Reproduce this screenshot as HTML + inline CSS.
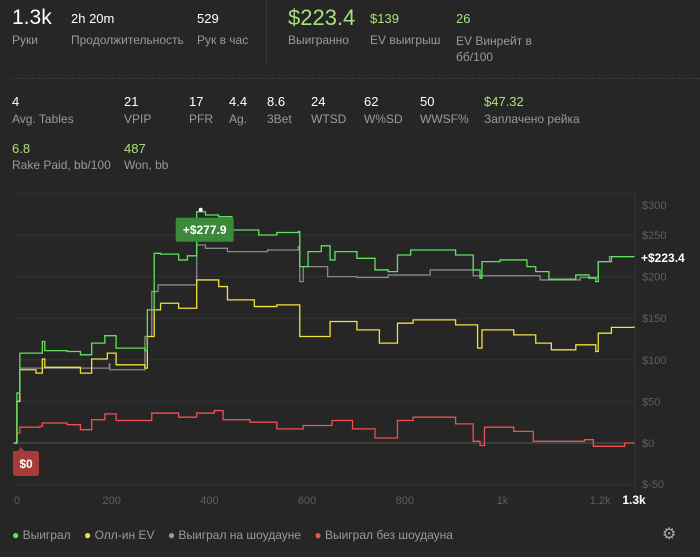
<!DOCTYPE html>
<html><head><meta charset="utf-8">
<style>
body{margin:0;width:700px;height:557px;background:#262626;font-family:"Liberation Sans",sans-serif;overflow:hidden;position:relative;color:#fff}
.a{position:absolute;white-space:nowrap}
.v{font-size:13px;color:#fff}
.g{color:#a8e07c}
.l{font-size:12px;color:#9a9a9a}
</style></head><body>
<div class="a" style="left:12px;top:6px;font-size:21px">1.3k</div>
<div class="a l" style="left:12px;top:33px">Руки</div>
<div class="a v" style="left:71px;top:11px">2h 20m</div>
<div class="a l" style="left:71px;top:33px">Продолжительность</div>
<div class="a v" style="left:197px;top:11px">529</div>
<div class="a l" style="left:197px;top:33px">Рук в час</div>
<div class="a" style="left:266px;top:0;width:1px;height:63px;background:#3a3a3a"></div>
<div class="a g" style="left:288px;top:5px;font-size:22px">$223.4</div>
<div class="a l" style="left:288px;top:33px">Выигранно</div>
<div class="a v g" style="left:370px;top:11px">$139</div>
<div class="a l" style="left:370px;top:33px">EV выигрыш</div>
<div class="a v g" style="left:456px;top:11px">26</div>
<div class="a l" style="left:456px;top:33px;line-height:16px">EV Винрейт в<br>бб/100</div>
<div class="a" style="left:12px;top:78px;width:688px;border-top:1px dashed #3c3c3c"></div>
<div class="a v" style="left:12px;top:94px">4</div>
<div class="a l" style="left:12px;top:112px">Avg. Tables</div>
<div class="a v" style="left:124px;top:94px">21</div>
<div class="a l" style="left:124px;top:112px">VPIP</div>
<div class="a v" style="left:189px;top:94px">17</div>
<div class="a l" style="left:189px;top:112px">PFR</div>
<div class="a v" style="left:229px;top:94px">4.4</div>
<div class="a l" style="left:229px;top:112px">Ag.</div>
<div class="a v" style="left:267px;top:94px">8.6</div>
<div class="a l" style="left:267px;top:112px">3Bet</div>
<div class="a v" style="left:311px;top:94px">24</div>
<div class="a l" style="left:311px;top:112px">WTSD</div>
<div class="a v" style="left:364px;top:94px">62</div>
<div class="a l" style="left:364px;top:112px">W%SD</div>
<div class="a v" style="left:420px;top:94px">50</div>
<div class="a l" style="left:420px;top:112px">WWSF%</div>
<div class="a v g" style="left:484px;top:94px">$47.32</div>
<div class="a l" style="left:484px;top:112px">Заплачено рейка</div>
<div class="a v g" style="left:12px;top:141px">6.8</div>
<div class="a l" style="left:12px;top:158px">Rake Paid, bb/100</div>
<div class="a v g" style="left:124px;top:141px">487</div>
<div class="a l" style="left:124px;top:158px">Won, bb</div>

<svg id="chart" class="a" style="left:0;top:0" width="700" height="557"></svg>

<div class="a" style="left:12px;top:528px;font-size:12px;color:#9a9a9a">
<span><span style="color:#5fe35f">●</span> Выиграл</span>&nbsp;&nbsp;&nbsp;
<span><span style="color:#f0e040">●</span> Олл-ин EV</span>&nbsp;&nbsp;&nbsp;
<span><span style="color:#999">●</span> Выиграл на шоудауне</span>&nbsp;&nbsp;&nbsp;
<span><span style="color:#f05050">●</span> Выиграл без шоудауна</span>
</div>
<div class="a" style="left:662px;top:524px;font-size:16px;color:#aaa">⚙</div>

<script>
const yTicks=[300,250,200,150,100,50,0,-50];
const yTickLabels=["$300","$250","$200","$150","$100","$50","$0","$-50"];
const xTicks=[0,200,400,600,800,1000,1200];
const xTickLabels=["0","200","400","600","800","1k","1.2k"];
const wonX=[0,6,12,53,58,63,109,136,159,186,209,268,273,287,300,337,355,374,392,419,446,501,538,582,585,602,629,647,657,702,739,766,785,812,849,904,940,954,958,995,1050,1068,1095,1150,1177,1191,1196,1223,1269];
const wonY=[0,60,108,108,122,111,110,106,120,129,114,111,160,228,227,220,225,277.9,274,272,256,250,253,254,212,230,237,220,230,222,208,206,226,232,232,226,208,198,218,220,212,206,197,202,198,194,218,224,223.4];
const evX=[0,6,12,45,58,63,136,159,191,209,268,273,287,300,337,374,419,437,492,538,585,647,702,748,785,817,852,904,949,958,1023,1068,1100,1150,1191,1196,1223,1269];
const evY=[0,50,88,84,101,91,84,101,108,94,90,128,160,168,162,196,188,172,164,166,128,146,136,120,144,148,148,142,114,136,130,120,112,118,110,132,139,140];
const sdX=[0,6,12,145,195,196,268,282,295,374,392,437,519,582,585,592,642,702,766,852,940,1077,1159,1196,1219,1269];
const sdY=[0,50,90,90,95,88,128,182,190,238,234,230,232,236,194,212,200,199,202,208,201,196,199,218,224,224];
const nsdX=[0,6,12,53,58,109,136,159,186,209,282,337,374,410,428,483,538,592,651,693,739,785,817,904,940,954,963,1023,1063,1095,1168,1186,1250,1269];
const nsdY=[0,12,19,20,24,22,16,28,35,27,36,31,36,39,28,25,17,21,27,17,6,27,31,23,2,-3,19,14,2,2,4,-4,0,1];

const svg=document.getElementById('chart');const NS='http://www.w3.org/2000/svg';
const X0=14,XK=0.4885,Y0=443,YK=0.832;
const sx=n=>X0+n*XK, sy=v=>Y0-v*YK;
function mk(t,a){const e=document.createElementNS(NS,t);for(const k in a)e.setAttribute(k,a[k]);svg.appendChild(e);return e;}
yTicks.forEach((t,i)=>{
 const g=mk('line',{x1:12,x2:635,y1:sy(t),y2:sy(t),stroke:t===0?'#555':'#333','stroke-width':1});
 
 
 let ly=Math.min(Math.max(sy(t)+4,209),488);
 const tx=mk('text',{x:642,y:ly,fill:'#5e5e5e','font-size':11,'font-family':'Liberation Sans'});tx.textContent=yTickLabels[i];
 
 
});
const b=mk('line',{x1:635,x2:635,y1:190,y2:490,stroke:'#333'});


xTicks.forEach((t,i)=>{
 const tx=mk('text',{x:sx(t),y:504,fill:'#5e5e5e','font-size':11,'font-family':'Liberation Sans','text-anchor':t===0?'start':'middle'});tx.textContent=xTickLabels[i];
 
 
});
const xe=mk('text',{x:634,y:504,fill:'#fff','font-size':12,'font-weight':'bold','font-family':'Liberation Sans','text-anchor':'middle'});xe.textContent='1.3k';


function series(xs,ys,col,name){
 let d='M'+sx(xs[0])+','+sy(ys[0]);
 for(let i=1;i<xs.length;i++){d+=' H'+sx(xs[i])+' V'+sy(ys[i]);}
 const p=mk('path',{d:d,fill:'none',stroke:col,'stroke-width':1.3});
 
 
}
series(sdX,sdY,'#8a8a8a','line-showdown');
series(nsdX,nsdY,'#f05050','line-no-showdown');
series(evX,evY,'#f0e040','line-allin-ev');
series(wonX,wonY,'#5fe35f','line-won');
const my=wonY[wonY.length-1];
const el=mk('text',{x:641,y:sy(my)+5,fill:'#fff','font-size':12,'font-weight':'bold','font-family':'Liberation Sans'});el.textContent='+$'+my.toFixed(1);


const maxI=wonY.indexOf(Math.max(...wonY));const tx0=sx(wonX[maxI]),ty0=sy(wonY[maxI]);
const dot=mk('circle',{cx:tx0+4,cy:ty0-2,r:2,fill:'#fff'});


const r=mk('rect',{x:tx0-21,y:ty0+6,width:58,height:24,rx:2,fill:'#3a8a3a'});


const rt=mk('text',{x:tx0+8,y:ty0+22,fill:'#fff','font-size':12,'font-weight':'bold','text-anchor':'middle','font-family':'Liberation Sans'});rt.textContent='+$'+wonY[maxI].toFixed(1);


const r2=mk('path',{d:'M13,451 H18 L21,447 L24,451 H36 Q39,451 39,454 V473 Q39,476 36,476 H16 Q13,476 13,473 Z',fill:'#a83a3a'});


const r2t=mk('text',{x:26,y:468,fill:'#fff','font-size':12,'font-weight':'bold','text-anchor':'middle','font-family':'Liberation Sans'});r2t.textContent='$0';


</script>
</body></html>
